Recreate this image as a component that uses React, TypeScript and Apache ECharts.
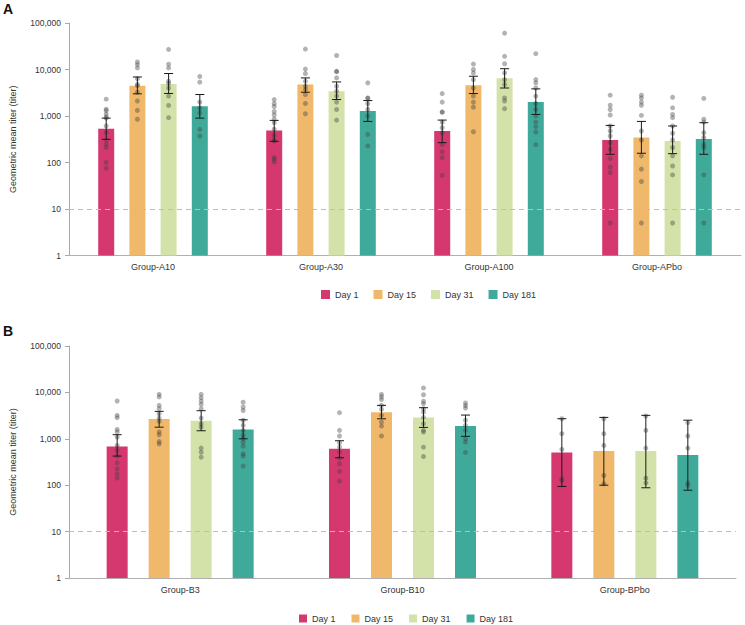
import React, { useEffect, useRef } from "react";
import * as echarts from "echarts";

// Visit labels shared by both panels
const days = ["Day 1", "Day 15", "Day 31", "Day 181"];
const dayColors = ["#D5376F", "#EFB86B", "#D3E2A8", "#40AA9A"];

// ---- Panel A ----
const groupsA = ["Group-A10", "Group-A30", "Group-A100", "Group-APbo"];
// geometric mean titers, [day][group]
const gmtA = [
  [530, 490, 475, 305],
  [4500, 4750, 4600, 343],
  [4900, 3400, 6500, 290],
  [1620, 1280, 1990, 320],
];
// 95% CI bounds, [day][group]
const ciLowA = [
  [315, 285, 267, 150],
  [3000, 3240, 3040, 158],
  [3050, 2260, 4000, 155],
  [900, 765, 1080, 150],
];
const ciHighA = [
  [900, 804, 817, 627],
  [6900, 6600, 7160, 765],
  [8200, 5400, 10400, 610],
  [2900, 2150, 3830, 717],
];
// individual titers, [day][group][subject]
const titersA = [
  [
    [2300, 1400, 1300, 1100, 960, 900, 610, 440, 300, 245, 210, 100, 76],
    [2250, 1850, 1600, 1250, 1050, 850, 720, 520, 380, 300, 290, 128, 118, 103],
    [3040, 1990, 1230, 1200, 740, 560, 436, 245, 169, 127, 53],
    [2800, 1700, 1380, 1050, 610, 475, 372, 267, 192, 121, 80, 61, 5],
  ],
  [
    [14500, 12700, 10800, 6350, 4750, 4500, 3240, 2100, 1320, 850],
    [27500, 10200, 8150, 5600, 4370, 3700, 2900, 1860, 1120],
    [13100, 10000, 8450, 6050, 4000, 2680, 1990, 1550, 458],
    [2800, 2450, 1990, 1700, 1030, 475, 305, 139, 72, 39, 5],
  ],
  [
    [27000, 13000, 10800, 5600, 5000, 4000, 2680, 1690, 920],
    [20000, 9150, 9000, 6600, 4370, 3400, 2680, 1990, 1380, 815],
    [60500, 19200, 13300, 8450, 6050, 4750, 2450, 2100, 1440],
    [2530, 1500, 1080, 920, 610, 425, 305, 210, 139, 84, 54, 5],
  ],
  [
    [7100, 5350, 1990, 1500, 1170, 516, 372],
    [5150, 2450, 2400, 1860, 1380, 1000, 403, 227],
    [21900, 6050, 5150, 4000, 2680, 1860, 1380, 1000, 740, 590, 452, 242],
    [2390, 850, 740, 436, 343, 245, 210, 54, 5],
  ],
];

// ---- Panel B ----
const groupsB = ["Group-B3", "Group-B10", "Group-BPbo"];
const gmtB = [
  [686, 610, 508],
  [2670, 3720, 543],
  [2460, 2890, 543],
  [1595, 1885, 446],
];
const ciLowB = [
  [424, 390, 94],
  [1780, 2700, 100],
  [1490, 1760, 88],
  [1000, 1130, 78],
];
const ciHighB = [
  [1225, 908, 2710],
  [3900, 5260, 2890],
  [4030, 4680, 3200],
  [2570, 3250, 2520],
];
const titersB = [
  [
    [6530, 3200, 2850, 1590, 1400, 1090, 720, 565, 424, 303, 225, 175, 142],
    [3660, 1520, 1150, 822, 663, 515, 383, 290, 198, 122],
    [2700, 1290, 590, 137, 126],
  ],
  [
    [9100, 8000, 5250, 4450, 3480, 2800, 2370, 1400, 1225, 870, 775],
    [9100, 8000, 7000, 5250, 4310, 3200, 2300, 1880, 1150],
    [2700, 1290, 720, 162, 107],
  ],
  [
    [9100, 7700, 6530, 5550, 4450, 2800, 2110, 1780, 630, 515, 403],
    [12500, 8900, 6450, 5750, 4450, 3750, 2890, 2110, 1520, 1400, 660, 416],
    [3100, 1520, 630, 142, 112],
  ],
  [
    [6150, 4840, 4080, 2510, 1950, 1520, 1180, 1000, 850, 695, 475, 424, 258],
    [5900, 5200, 4600, 2510, 1950, 1520, 1000, 850, 508],
    [2240, 1150, 630, 112, 99],
  ],
];

const yAxisTitle = "Geometric mean titer (titer)";
const FONT = "'Liberation Sans', Arial, sans-serif";

function panelSeries(
  p: number,
  gmt: number[][],
  lo: number[][],
  hi: number[][],
  titers: number[][][],
  barWidth: number,
  barGapPct: number
) {
  const step = barWidth * (1 + barGapPct / 100);
  const cap = 9;
  const out: any[] = [];
  days.forEach((day, d) => {
    const offset = (d - 1.5) * step;
    out.push({
      type: "bar",
      name: day,
      xAxisIndex: p,
      yAxisIndex: p,
      data: gmt[d],
      barWidth,
      barGap: barGapPct + "%",
      itemStyle: { color: dayColors[d] },
      z: 2,
      markLine:
        d === 0
          ? {
              silent: true,
              symbol: "none",
              label: { show: false },
              lineStyle: { type: [5, 4], color: "#bdbdbd", width: 1 },
              data: [{ yAxis: 10 }],
            }
          : undefined,
    });
    out.push({
      type: "scatter",
      name: day + " subjects",
      xAxisIndex: p,
      yAxisIndex: p,
      data: titers[d].flatMap((vals, g) => vals.map((v) => [g, v])),
      symbolSize: 5,
      symbolOffset: [offset, 0],
      itemStyle: { color: "rgba(65,65,65,0.5)" },
      z: 3,
    });
    out.push({
      type: "custom",
      name: day + " CI",
      xAxisIndex: p,
      yAxisIndex: p,
      encode: { x: 0, y: [1, 2] },
      data: gmt[d].map((_, g) => [g, lo[d][g], hi[d][g]]),
      z: 4,
      renderItem: (params: any, api: any) => {
        const g = api.value(0);
        const top = api.coord([g, api.value(2)]);
        const bot = api.coord([g, api.value(1)]);
        const x = top[0] + offset;
        const style = { stroke: "#1a1a1a", lineWidth: 1 };
        return {
          type: "group",
          children: [
            { type: "line", shape: { x1: x, y1: top[1], x2: x, y2: bot[1] }, style },
            { type: "line", shape: { x1: x - cap / 2, y1: top[1], x2: x + cap / 2, y2: top[1] }, style },
            { type: "line", shape: { x1: x - cap / 2, y1: bot[1], x2: x + cap / 2, y2: bot[1] }, style },
          ],
        };
      },
    });
  });
  return out;
}

function yAxisFor(p: number) {
  return {
    type: "log",
    logBase: 10,
    gridIndex: p,
    min: 1,
    max: 100000,
    name: yAxisTitle,
    nameLocation: "middle",
    nameRotate: 90,
    nameGap: 52,
    nameTextStyle: { fontSize: 9, color: "#333", fontFamily: FONT },
    axisLine: { show: true, lineStyle: { color: "#a8a8a8", width: 1 } },
    axisTick: { show: true, length: 4, lineStyle: { color: "#a8a8a8" } },
    axisLabel: {
      fontSize: 8.5,
      color: "#333",
      margin: 8,
      fontFamily: FONT,
      formatter: (v: number) => Number(v).toLocaleString("en-US"),
    },
    splitLine: { show: false },
  };
}

function xAxisFor(p: number, data: string[]) {
  return {
    type: "category",
    gridIndex: p,
    data,
    axisLine: { show: true, lineStyle: { color: "#b0b0b0", width: 1 } },
    axisTick: { show: false },
    axisLabel: { fontSize: 9, color: "#333", margin: 7, fontFamily: FONT },
  };
}

function legendFor(left: number, top: number, size: number, gap: number) {
  return {
    data: days,
    left,
    top,
    padding: 0,
    icon: "rect",
    itemWidth: size,
    itemHeight: size,
    itemGap: gap,
    textStyle: { fontSize: 9, color: "#333", fontFamily: FONT },
  };
}

export default function App() {
  const ref = useRef<HTMLDivElement>(null);

  useEffect(() => {
    if (!ref.current) return;
    const chart = echarts.init(ref.current, undefined, { renderer: "svg" });
    chart.setOption({
      animation: false,
      textStyle: { fontFamily: FONT },
      grid: [
        { left: 62, right: 4, top: 23, height: 232.5 },
        { left: 62, right: 9, top: 346, height: 232 },
      ],
      xAxis: [xAxisFor(0, groupsA), xAxisFor(1, groupsB)],
      yAxis: [yAxisFor(0), yAxisFor(1)],
      legend: [legendFor(321, 290, 9, 15), legendFor(299, 614, 8, 16)],
      graphic: [
        {
          type: "text",
          left: 3,
          top: 2,
          style: { text: "A", font: `bold 14px ${FONT}`, fill: "#111" },
        },
        {
          type: "text",
          left: 3,
          top: 324,
          style: { text: "B", font: `bold 14px ${FONT}`, fill: "#111" },
        },
      ],
      series: [
        ...panelSeries(0, gmtA, ciLowA, ciHighA, titersA, 16, 95),
        ...panelSeries(1, gmtB, ciLowB, ciHighB, titersB, 21, 100),
      ],
    });
    return () => chart.dispose();
  }, []);

  return (
    <div
      ref={ref}
      style={{ position: "fixed", left: 0, top: 0, width: 745, height: 625, background: "#fff" }}
    />
  );
}
